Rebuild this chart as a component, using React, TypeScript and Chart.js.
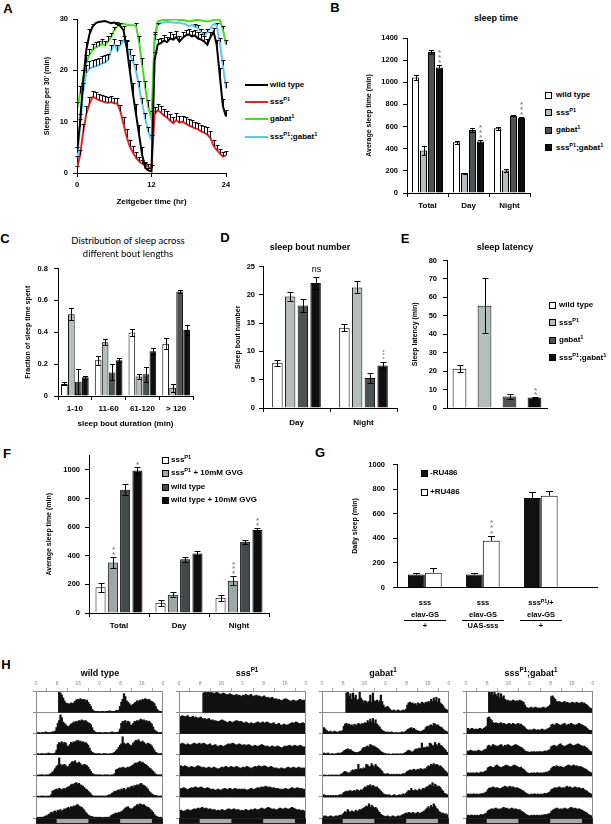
import React, { useEffect, useRef } from 'react';
import { Chart, registerables } from 'chart.js';

Chart.register(...registerables);

const FONT = "'Liberation Sans', Arial, Helvetica, sans-serif";
const _ = null;

// ===== genotypes & colours =====
const GENO = ['wild type', 'sss^{P1}', 'gabat^{1}', 'sss^{P1};gabat^{1}'];
const LINE_COLORS = ['#000000', '#ee2222', '#44dd22', '#5cc8ef'];
const BAR_COLORS = ['#ffffff', '#b4bfbc', '#4b5453', '#0e0e0e'];

// ===== Panel A : sleep per 30 min =====
const A_ZT = [0,0.5,1,1.5,2,2.5,3,3.5,4,4.5,5,5.5,6,6.5,7,7.5,8,8.5,9,9.5,10,10.5,11,11.5,12,12.5,13,13.5,14,14.5,15,15.5,16,16.5,17,17.5,18,18.5,19,19.5,20,20.5,21,21.5,22,22.5,23,23.5,24];
const A_WT = [4,10,18,24,27,28.5,29.2,29.4,29.5,29.6,29.4,29.2,29.3,29,28.6,27.8,24.5,20,15.5,11.5,7.5,3.5,1,0.5,0.3,22,25,25.3,25.8,25.5,26.2,26,26.5,25.6,26.3,26.8,27,26.6,26.8,26.2,26,25.6,25,26.5,27.5,25,19,13,11];
const A_SSS = [0.8,3.5,8,11.5,13.5,14.8,14.6,14.2,14,13.8,13.7,13.8,13.6,13.5,12,9.5,7,5.2,4,3,2.3,1.8,1.5,1.2,1,11.5,12.2,11.8,11.2,10.8,10.2,9.7,10.3,9.8,10,9.6,9.3,9,8.7,8.5,8.1,7.8,7.5,6.8,5.3,4.5,3.8,3.2,3.4];
const A_GABAT = [12.3,15.5,18.5,21.5,23,24,24.5,24.7,25.2,24.8,25.6,26.5,27.8,28.6,29,29.1,28.9,28.8,28.8,28.7,25.5,21,16.5,12.8,10.5,26.5,29.5,29.7,29.8,29.8,29.9,29.9,29.9,29.8,29.8,29.7,29.5,29.6,29.8,29.8,29.7,29.6,29.5,29.6,29.8,29.9,29.8,28,25];
const A_DOUBLE = [2.3,9,16,19.5,20.3,20.6,20.8,21,21.3,21.5,22,23.9,25.2,23.8,25,25.8,24.8,23,21.8,20,16.7,13.5,10.5,8,6.5,26,28.8,29.2,29.3,29.4,29.4,29.3,29.2,29.3,29.1,29,28.6,28.8,28.5,28.3,27.5,26.8,27.5,28.2,29,28.8,25.5,21,16.5];
const A_WT_ERR = [1,1.5,2,1.5,1,0.5,0.3,0.3,0.3,0.3,0.3,0.3,0.3,0.5,0.6,0.8,1.5,2,2,2,1.8,1.5,1,0.5,0.3,1.5,1.2,1,1.1,1,1.2,1,1.1,1,1.2,1,1.1,1,1,1.2,1,1.1,1.2,1,0.8,1,1.5,1.5,1.2];
const A_SSS_ERR = [0.5,1,1.5,1.5,1.3,1.2,1.1,1.2,1.1,1.2,1.1,1.2,1.1,1.2,1.3,1.4,1.5,1.3,1.2,1,0.8,0.7,0.6,0.5,0.5,1.4,1.3,1.2,1.3,1.2,1.3,1.2,1.4,1.3,1.2,1.3,1.2,1.3,1.2,1.3,1.2,1.3,1.4,1.3,1.2,1,0.9,0.8,0.8];
const A_GABAT_ERR = [1.5,1.5,1.5,1.5,1.2,1.2,1,1,1,1,1,0.8,0.6,0.5,0.4,0.4,0.4,0.4,0.4,0.5,1.2,1.5,1.5,1.5,1.5,1,0.3,0.3,0.2,0.2,0.2,0.2,0.2,0.2,0.2,0.2,0.3,0.3,0.2,0.2,0.2,0.3,0.3,0.3,0.2,0.2,0.2,0.6,1];
const A_DOUBLE_ERR = [1,1.5,1.5,1.5,1.5,1.5,1.5,1.5,1.5,1.5,1.2,1,1,1.2,1,0.8,1,1.2,1.2,1.2,1.2,1.2,1.2,1,1,1,0.5,0.4,0.4,0.3,0.3,0.3,0.3,0.3,0.3,0.4,0.4,0.4,0.5,0.5,0.6,0.6,0.5,0.4,0.4,0.5,0.8,1,1.2];

// ===== Panel B : sleep time =====
const B_CATS = ['Total', 'Day', 'Night'];
const B_WT = [1043, 459, 585];
const B_SSS = [384, 180, 204];
const B_GABAT = [1274, 570, 698];
const B_DOUBLE = [1133, 465, 677];
const B_WT_ERR = [20, 12, 15];
const B_SSS_ERR = [42, 5, 12];
const B_GABAT_ERR = [15, 15, 5];
const B_DOUBLE_ERR = [21, 12, 12];
const B_DOUBLE_SIG = ['***', '***', '***'];

// ===== Panel C : bout length distribution =====
const C_CATS = ['1-10', '11-60', '61-120', '> 120'];
const C_WT = [0.076, 0.224, 0.398, 0.328];
const C_SSS = [0.513, 0.338, 0.123, 0.051];
const C_GABAT = [0.09, 0.148, 0.137, 0.656];
const C_DOUBLE = [0.117, 0.224, 0.281, 0.414];
const C_WT_ERR = [0.01, 0.027, 0.02, 0.035];
const C_SSS_ERR = [0.039, 0.02, 0.014, 0.025];
const C_GABAT_ERR = [0.08, 0.05, 0.047, 0.01];
const C_DOUBLE_ERR = [0.01, 0.012, 0.02, 0.03];

// ===== Panel D : sleep bout number =====
const D_CATS = ['Day', 'Night'];
const D_WT = [8.0, 14.2];
const D_SSS = [19.7, 21.3];
const D_GABAT = [18.1, 5.3];
const D_DOUBLE = [22.1, 7.5];
const D_WT_ERR = [0.5, 0.6];
const D_SSS_ERR = [0.8, 1.05];
const D_GABAT_ERR = [1.2, 0.8];
const D_DOUBLE_ERR = [1.0, 0.6];
const D_DOUBLE_SIG = ['ns', '***'];

// ===== Panel E : sleep latency =====
const E_VALUES = [21.3, 55.5, 6.2, 5.7];
const E_ERR = [1.8, 15, 1.2, 0.4];
const E_SIG = ['', '', '', '**'];

// ===== Panel F : drug feeding =====
const F_CATS = ['Total', 'Day', 'Night'];
const F_LEGEND = ['sss^{P1}', 'sss^{P1} + 10mM GVG', 'wild type', 'wild type + 10mM GVG'];
const F_COLORS = ['#ffffff', '#9ca8a6', '#404a48', '#0e0e0e'];
const F_SSS = [180, 72, 106];
const F_SSS_GVG = [353, 127, 226];
const F_WT = [861, 376, 497];
const F_WT_GVG = [995, 416, 580];
const F_SSS_ERR = [30, 20, 20];
const F_SSS_GVG_ERR = [41, 18, 33];
const F_WT_ERR = [39, 18, 14];
const F_WT_GVG_ERR = [23, 18, 12];
const F_SSS_GVG_SIG = ['**', '', '***'];
const F_WT_GVG_SIG = ['*', '', '**'];
const F_TICKS = [0, 200, 400, 600, 800, 1000];

// ===== Panel G : RU486 induction =====
const G_X = [1, 2, 3];
const G_LINE1 = ['sss', 'sss', 'sss^{P1}/+'];
const G_LINE2 = ['elav-GS', 'elav-GS', 'elav-GS'];
const G_LINE3 = ['+', 'UAS-sss', '+'];
const G_LEGEND = ['-RU486', '+RU486'];
const G_MINUS = [105, 105, 728];
const G_PLUS = [120, 380, 746];
const G_MINUS_ERR = [16, 16, 45];
const G_PLUS_ERR = [42, 39, 39];
const G_PLUS_SIG = ['', '***', ''];

// ===== Panel H : double-plotted actograms (30-min bins, 7 days) =====
const ACTO_WT = [
  [_,_,_,_,_,_,_,_,_,_,_,_,_,_,_,_,_,29,27,24,20,16,13,12,12,11,13,12,13,15,17,18,17,19,18,17,18,16,17,14,11,8,4,2,1,1,1,1],
  [0,1,1,0,1,1,1,2,1,1,1,1,2,2,3,8,14,18,26,22,16,14,12,10,9,11,13,14,16,15,17,16,18,17,19,18,17,18,16,15,14,12,8,4,2,1,1,1],
  [1,1,0,1,1,1,0,1,1,2,1,1,1,1,2,6,14,17,16,18,15,17,16,12,11,14,17,16,18,17,19,20,18,19,17,18,16,17,15,13,9,5,3,2,1,1,1,1],
  [1,0,1,1,1,1,0,1,1,1,2,3,5,7,10,13,15,25,16,14,15,16,14,12,13,16,18,20,19,21,18,17,19,17,15,14,16,15,14,12,9,6,3,2,1,1,1,1],
  [1,1,0,1,1,1,1,0,1,1,1,3,8,9,10,11,10,12,11,10,11,12,11,13,14,15,17,18,17,19,20,18,19,17,16,15,13,11,10,8,6,4,2,1,1,1,1,1],
  [1,1,1,1,1,1,2,3,3,5,6,8,7,9,10,8,11,10,12,9,11,13,12,14,15,13,16,15,17,16,18,19,17,16,15,13,11,8,6,4,3,2,2,1,1,1,1,1],
  [1,1,0,1,1,1,1,1,3,4,5,6,7,6,8,7,9,10,12,14,15,16,14,13,12,14,16,17,19,18,20,19,18,19,17,16,15,14,12,10,8,5,3,2,1,1,1,1],
];
const ACTO_SSS = [
  [_,_,_,_,_,_,_,_,_,_,_,_,_,_,_,_,_,_,27,28,27,28,29,27,28,27,26,27,28,27,26,25,26,27,26,25,24,25,26,25,24,23,24,25,23,24,23,22],
  [24,23,25,24,23,24,25,23,22,23,24,22,23,22,21,22,23,21,20,21,19,20,21,19,18,19,17,18,17,16,17,18,19,18,17,16,15,16,17,16,15,16,17,18,17,16,17,16],
  [15,14,16,15,14,13,15,14,13,14,15,16,15,14,15,16,14,15,16,15,14,13,14,15,13,12,13,14,12,11,12,13,12,11,12,13,14,15,14,15,16,15,14,13,14,15,14,13],
  [13,14,12,13,14,13,12,11,12,13,12,11,12,13,14,13,12,11,12,11,10,11,12,11,10,11,12,11,10,9,10,11,12,11,12,13,12,11,12,13,12,11,12,13,12,11,10,11],
  [12,11,12,13,12,11,10,11,12,13,12,13,14,13,12,13,14,13,12,11,12,13,12,11,10,11,10,9,10,11,10,9,10,11,12,11,10,11,12,11,10,11,12,11,10,11,10,11],
  [10,11,10,9,10,11,12,11,10,11,12,13,12,13,14,13,14,15,14,13,14,13,12,13,12,11,12,11,10,11,10,11,12,11,10,11,12,13,12,11,12,13,12,11,12,11,10,11],
  [10,11,12,11,10,11,12,11,12,13,12,11,12,13,14,13,12,13,14,15,14,13,12,13,12,11,12,13,14,13,12,13,14,13,12,13,14,15,14,13,12,11,12,11,10,11,10,9],
];
const ACTO_GABAT = [
  [_,_,_,_,_,_,_,_,_,_,_,_,_,_,_,_,_,_,27,28,22,26,18,27,20,24,16,18,28,20,17,14,16,15,13,15,24,14,27,16,15,17,14,16,24,15,10,6],
  [7,8,6,4,2,2,3,1,2,3,2,1,2,3,2,4,10,13,14,12,13,11,12,10,13,11,12,14,13,12,14,13,15,14,18,15,20,16,21,14,19,13,11,9,6,4,3,2],
  [1,2,1,1,2,1,0,1,1,0,1,1,2,1,2,3,5,6,7,8,6,7,5,4,3,3,2,3,4,5,8,10,9,11,12,10,14,13,11,12,10,9,8,6,4,3,2,1],
  [1,0,1,0,0,1,0,1,0,1,0,1,0,1,2,3,5,6,5,4,3,5,7,8,7,9,8,16,9,10,9,11,10,16,15,12,13,17,14,12,16,13,12,10,8,6,3,2],
  [2,3,2,1,2,1,2,1,2,1,2,1,2,3,2,4,6,7,8,7,8,9,7,8,9,8,10,9,8,10,9,12,14,13,16,15,17,14,16,15,13,14,12,10,8,6,4,3],
  [3,2,3,2,1,2,3,2,1,2,3,2,3,4,3,5,7,9,8,12,9,8,10,9,8,11,9,10,12,11,13,14,15,17,16,20,15,18,16,14,15,13,10,8,5,4,3,2],
  [2,3,2,1,2,3,2,1,2,3,2,3,4,5,6,7,6,8,7,6,8,7,6,7,8,6,7,8,9,10,12,14,16,13,18,15,20,17,14,12,9,8,6,7,5,6,4,5],
];
const ACTO_DOUBLE = [
  [_,_,_,_,_,_,_,_,_,_,_,_,_,_,_,_,_,28,27,29,24,28,25,22,27,20,26,21,23,18,16,17,15,16,15,17,16,15,16,15,17,16,15,14,10,7,6,5],
  [6,7,5,6,7,6,5,6,5,6,7,6,5,7,8,10,22,23,20,18,15,14,15,14,13,14,15,13,14,13,12,13,14,13,12,14,13,12,13,14,12,13,11,10,8,6,5,4],
  [5,4,5,6,5,4,5,4,5,6,5,4,5,6,7,8,12,13,11,12,14,13,12,11,12,13,14,12,11,13,12,14,13,12,11,12,13,14,13,12,11,10,9,7,5,4,4,3],
  [3,4,3,4,3,4,3,4,4,3,4,5,4,5,6,7,11,12,13,12,11,12,14,15,13,12,11,12,13,14,15,14,13,12,13,14,15,14,13,12,11,12,10,9,7,5,4,3],
  [3,4,3,4,3,4,4,3,4,3,4,4,5,4,6,7,10,12,13,12,14,13,12,13,12,11,12,13,14,15,14,13,14,15,13,14,13,12,13,12,11,10,9,8,6,5,4,3],
  [3,4,3,4,4,3,4,3,4,3,4,5,4,5,6,7,10,11,12,13,12,13,14,13,12,13,12,14,15,13,14,13,12,13,14,13,12,13,12,11,12,10,9,8,6,5,4,3],
  [3,4,3,4,3,4,3,4,3,4,4,5,4,5,6,6,9,11,12,13,14,13,12,13,12,13,14,13,12,13,14,15,14,13,14,13,12,13,12,11,10,9,8,7,5,4,3,3],
];
const ACTO_SETS = [ACTO_WT, ACTO_SSS, ACTO_GABAT, ACTO_DOUBLE];
const ACTO_TITLES = GENO;
const ACTO_ROW_BASES = [150, 120, 90, 60, 30, 0];
const ACTO_ROW_LINES = [0, 30, 60, 90, 120, 150, 180];
const ACTO_TICKS = [0, 8, 16, 24, 32, 40, 48];
const LIGHT_START = [0, 8, 20, 32, 44];
const LIGHT_END = [8, 20, 32, 44, 48];
const LIGHT_STATE = ['dark', 'light', 'dark', 'light', 'dark'];
const LIGHT_BAR = [-7, 0];
const BIN_H = 0.5;
const ACTO_BINS = Array.from({ length: 96 }, (__, k) => k * BIN_H + BIN_H / 2);

// ===== shared chart helpers =====
const TICK_FONT = { size: 7.5, weight: 'bold', family: FONT };
const CAT_FONT = { size: 8, weight: 'bold', family: FONT };
const TITLE_FONT = { size: 7, weight: 'bold', family: FONT, lineHeight: 1.2 };
const plainNum = (v: any) => String(v);

const errPlugin = {
  id: 'errbars',
  afterDatasetsDraw(chart: any, _a: any, opts: any) {
    const ctx = chart.ctx;
    const capW = opts.capWidth ?? 5;
    const upOnly = !!opts.upOnly;
    const minErr = opts.minErr ?? 0;
    ctx.save();
    chart.data.datasets.forEach((ds: any, di: number) => {
      if (!ds.errorValues && !ds.stars) return;
      const meta = chart.getDatasetMeta(di);
      const ys = chart.scales[meta.yAxisID];
      meta.data.forEach((el: any, i: number) => {
        const raw = ds.data[i];
        const v = raw !== null && typeof raw === 'object' ? raw.y : raw;
        if (v == null) return;
        const x = Math.round(el.x) + 0.5;
        let topPx = ys.getPixelForValue(v);
        const e = ds.errorValues ? ds.errorValues[i] : 0;
        if (e && e >= minErr) {
          const up = Math.round(ys.getPixelForValue(v + e)) + 0.5;
          const lo = upOnly ? topPx : Math.round(ys.getPixelForValue(v - e)) + 0.5;
          ctx.strokeStyle = '#000';
          ctx.lineWidth = 1;
          ctx.beginPath();
          ctx.moveTo(x, lo);
          ctx.lineTo(x, up);
          ctx.moveTo(x - capW / 2, up);
          ctx.lineTo(x + capW / 2, up);
          if (!upOnly) {
            ctx.moveTo(x - capW / 2, lo);
            ctx.lineTo(x + capW / 2, lo);
          }
          ctx.stroke();
          topPx = up;
        }
        const s = ds.stars ? ds.stars[i] : '';
        if (s) {
          if (/^\*+$/.test(s)) {
            const size = opts.starSize || 8;
            const gap = opts.starGap || 5;
            const off = opts.starOffset || 5;
            ctx.fillStyle = '#8a8a8a';
            ctx.font = `bold ${size}px ${FONT}`;
            ctx.textAlign = 'center';
            ctx.textBaseline = 'alphabetic';
            for (let k = 0; k < s.length; k++) {
              const cy = topPx - off - k * gap;
              ctx.fillText('*', x, cy + size * 0.57);
            }
          } else {
            ctx.fillStyle = '#000';
            ctx.font = `9px ${FONT}`;
            ctx.textAlign = 'center';
            ctx.textBaseline = 'bottom';
            ctx.fillText(s, x, topPx - 3);
          }
        }
      });
    });
    ctx.restore();
  },
};

function baseOptions(padding: any, plug: any) {
  return {
    animation: false,
    responsive: false,
    maintainAspectRatio: false,
    events: [],
    layout: { padding },
    plugins: { legend: { display: false }, tooltip: { enabled: false }, title: { display: false }, ...plug },
  };
}

function yAxis(o: any) {
  const ax: any = {
    min: o.min,
    max: o.max,
    ticks: { stepSize: o.step, font: TICK_FONT, color: '#000', padding: o.tickPad, callback: plainNum },
    grid: { drawOnChartArea: false, tickLength: 4, color: '#000' },
    border: { color: '#000' },
    title: { display: true, text: o.title, color: '#000', font: TITLE_FONT, padding: { top: o.titlePad, bottom: 0 } },
    afterFit: (s: any) => { s.width = o.width; },
  };
  if (o.ticksList) ax.afterBuildTicks = (s: any) => { s.ticks = o.ticksList.map((v: number) => ({ value: v })); };
  return ax;
}

function catAxis(o: any) {
  const show = o.show !== false;
  const ax: any = {
    ticks: { display: show, font: CAT_FONT, color: '#000', padding: o.tickPad ?? 4, maxRotation: 0, autoSkip: false },
    grid: { drawOnChartArea: false, drawTicks: show, tickLength: 4, color: '#000' },
    border: { color: '#000' },
    afterFit: (s: any) => { s.height = o.height; },
  };
  if (o.title) ax.title = { display: true, text: o.title, color: '#000', font: { size: 8, weight: 'bold', family: FONT, lineHeight: 1.2 }, padding: { top: 0, bottom: o.titlePad } };
  return ax;
}

function barSet(label: string, data: any[], color: any, err: number[], stars?: string[]) {
  return { label, data, backgroundColor: color, borderColor: '#000', borderWidth: 1, errorValues: err, stars };
}

// ===== chart configs =====
function configA() {
  const series = [A_WT, A_SSS, A_GABAT, A_DOUBLE];
  const errs = [A_WT_ERR, A_SSS_ERR, A_GABAT_ERR, A_DOUBLE_ERR];
  return {
    type: 'line',
    data: {
      datasets: series.map((s, k) => ({
        label: GENO[k],
        data: A_ZT.map((x, i) => ({ x, y: s[i] })),
        borderColor: LINE_COLORS[k],
        borderWidth: 2,
        pointRadius: 0,
        tension: 0,
        fill: false,
        errorValues: errs[k],
      })),
    },
    options: {
      ...baseOptions({ left: 0, top: 14, right: 9, bottom: 0 }, { errbars: { capWidth: 4, upOnly: true, minErr: 0.5 } }),
      scales: {
        x: {
          type: 'linear', min: 0, max: 24,
          ticks: { stepSize: 12, font: TICK_FONT, color: '#000', padding: 3.9, callback: plainNum },
          grid: { drawOnChartArea: false, tickLength: 4, color: '#000' },
          border: { color: '#000' },
          title: { display: true, text: 'Zeitgeber time (hr)', color: '#000', font: { size: 8, weight: 'bold', family: FONT, lineHeight: 1.2 }, padding: { top: 0, bottom: 3.2 } },
          afterFit: (s: any) => { s.height = 37; },
        },
        y: yAxis({ min: 0, max: 30, step: 10, title: "Sleep time per 30' (min)", titlePad: 22.8, width: 57, tickPad: 5 }),
      },
    },
    plugins: [errPlugin],
  };
}

function configB() {
  return {
    type: 'bar',
    data: {
      labels: B_CATS,
      datasets: [
        barSet(GENO[0], B_WT, BAR_COLORS[0], B_WT_ERR),
        barSet(GENO[1], B_SSS, BAR_COLORS[1], B_SSS_ERR),
        barSet(GENO[2], B_GABAT, BAR_COLORS[2], B_GABAT_ERR),
        barSet(GENO[3], B_DOUBLE, BAR_COLORS[3], B_DOUBLE_ERR, B_DOUBLE_SIG),
      ],
    },
    options: {
      ...baseOptions({ left: 0, top: 13, right: 10, bottom: 0 }, { errbars: { capWidth: 5, starOffset: 5, starGap: 5 } }),
      datasets: { bar: { categoryPercentage: 0.78, barPercentage: 0.88 } },
      scales: {
        x: catAxis({ height: 22, tickPad: 3.6 }),
        y: yAxis({ min: 0, max: 1400, step: 200, title: 'Average sleep time (min)', titlePad: 24.8, width: 67, tickPad: 5 }),
      },
    },
    plugins: [errPlugin],
  };
}

function configC() {
  return {
    type: 'bar',
    data: {
      labels: C_CATS,
      datasets: [
        barSet(GENO[0], C_WT, BAR_COLORS[0], C_WT_ERR),
        barSet(GENO[1], C_SSS, BAR_COLORS[1], C_SSS_ERR),
        barSet(GENO[2], C_GABAT, BAR_COLORS[2], C_GABAT_ERR),
        barSet(GENO[3], C_DOUBLE, BAR_COLORS[3], C_DOUBLE_ERR),
      ],
    },
    options: {
      ...baseOptions({ left: 0, top: 8, right: 7, bottom: 0 }, { errbars: { capWidth: 5 } }),
      datasets: { bar: { categoryPercentage: 0.83, barPercentage: 0.95 } },
      scales: {
        x: catAxis({ height: 36, tickPad: 3.6, title: 'sleep bout duration (min)', titlePad: 3.2 }),
        y: yAxis({ min: 0, max: 0.8, step: 0.2, title: 'Fraction of sleep time spent', titlePad: 18.8, width: 53, tickPad: 6 }),
      },
    },
    plugins: [errPlugin],
  };
}

function configD() {
  return {
    type: 'bar',
    data: {
      labels: D_CATS,
      datasets: [
        barSet(GENO[0], D_WT, BAR_COLORS[0], D_WT_ERR),
        barSet(GENO[1], D_SSS, BAR_COLORS[1], D_SSS_ERR),
        barSet(GENO[2], D_GABAT, BAR_COLORS[2], D_GABAT_ERR),
        barSet(GENO[3], D_DOUBLE, BAR_COLORS[3], D_DOUBLE_ERR, D_DOUBLE_SIG),
      ],
    },
    options: {
      ...baseOptions({ left: 0, top: 8, right: 5, bottom: 0 }, { errbars: { capWidth: 6, starOffset: 5, starGap: 3.5, starSize: 6 } }),
      datasets: { bar: { categoryPercentage: 0.76, barPercentage: 0.82 } },
      scales: {
        x: catAxis({ height: 24, tickPad: 5.6 }),
        y: yAxis({ min: 0, max: 25, step: 5, title: 'Sleep bout number', titlePad: 11.8, width: 41, tickPad: 4 }),
      },
    },
    plugins: [errPlugin],
  };
}

function configE() {
  return {
    type: 'bar',
    data: {
      labels: GENO,
      datasets: [barSet('sleep latency', E_VALUES, BAR_COLORS, E_ERR, E_SIG)],
    },
    options: {
      ...baseOptions({ left: 0, top: 8, right: 3, bottom: 0 }, { errbars: { capWidth: 6, starOffset: 5, starGap: 4.5 } }),
      datasets: { bar: { categoryPercentage: 0.55, barPercentage: 1 } },
      scales: {
        x: catAxis({ height: 17, show: false }),
        y: yAxis({ min: 0, max: 80, step: 10, title: 'Sleep latency (min)', titlePad: 5.8, width: 42, tickPad: 6 }),
      },
    },
    plugins: [errPlugin],
  };
}

function configF() {
  return {
    type: 'bar',
    data: {
      labels: F_CATS,
      datasets: [
        barSet(F_LEGEND[0], F_SSS, F_COLORS[0], F_SSS_ERR),
        barSet(F_LEGEND[1], F_SSS_GVG, F_COLORS[1], F_SSS_GVG_ERR, F_SSS_GVG_SIG),
        barSet(F_LEGEND[2], F_WT, F_COLORS[2], F_WT_ERR),
        barSet(F_LEGEND[3], F_WT_GVG, F_COLORS[3], F_WT_GVG_ERR, F_WT_GVG_SIG),
      ],
    },
    options: {
      ...baseOptions({ left: 0, top: 8, right: 6, bottom: 0 }, { errbars: { capWidth: 6, starOffset: 5.5, starGap: 4.5 } }),
      datasets: { bar: { categoryPercentage: 0.82, barPercentage: 0.82 } },
      scales: {
        x: catAxis({ height: 27, tickPad: 3.6 }),
        y: yAxis({ min: 0, max: 1100, title: 'Average sleep time (min)', titlePad: 19.8, width: 64, tickPad: 5, ticksList: F_TICKS }),
      },
    },
    plugins: [errPlugin],
  };
}

function configG() {
  return {
    type: 'bar',
    data: {
      datasets: [
        barSet(G_LEGEND[0], G_X.map((x, i) => ({ x, y: G_MINUS[i] })), '#111111', G_MINUS_ERR),
        barSet(G_LEGEND[1], G_X.map((x, i) => ({ x, y: G_PLUS[i] })), '#ffffff', G_PLUS_ERR, G_PLUS_SIG),
      ],
    },
    options: {
      ...baseOptions({ left: 0, top: 11, right: 8, bottom: 0 }, { errbars: { capWidth: 7, upOnly: true, starOffset: 5.5, starGap: 5.5 } }),
      datasets: { bar: { categoryPercentage: 0.6, barPercentage: 1 } },
      scales: {
        x: {
          type: 'linear', min: 0.52, max: 3.97, offset: false,
          ticks: { display: false },
          grid: { drawOnChartArea: false, drawTicks: false },
          border: { color: '#000' },
          afterFit: (s: any) => { s.height = 10; },
        },
        y: yAxis({ min: 0, max: 1000, step: 200, title: 'Daily sleep (min)', titlePad: 10.8, width: 57, tickPad: 8 }),
      },
    },
    plugins: [errPlugin],
  };
}

function lightColor(h: number) {
  for (let i = 0; i < LIGHT_START.length; i++) {
    if (h >= LIGHT_START[i] && h < LIGHT_END[i]) return LIGHT_STATE[i] === 'dark' ? '#111111' : '#a8a8a8';
  }
  return '#111111';
}

const framePlugin = {
  id: 'actoFrame',
  afterDatasetsDraw(chart: any) {
    const { ctx, chartArea, scales } = chart;
    const l = Math.round(chartArea.left) + 0.5;
    const w = Math.round(chartArea.right - chartArea.left) - 1;
    const t = Math.round(scales.y.getPixelForValue(ACTO_ROW_LINES[ACTO_ROW_LINES.length - 1])) + 0.5;
    const b = Math.round(scales.y.getPixelForValue(0)) + 0.5;
    const lb = Math.round(scales.y.getPixelForValue(LIGHT_BAR[0])) + 0.5;
    ctx.save();
    ctx.strokeStyle = '#8c8c8c';
    ctx.lineWidth = 1;
    ctx.strokeRect(l, t, w, b - t);
    ctx.strokeStyle = '#222';
    ctx.strokeRect(l, b, w, lb - b);
    ctx.restore();
  },
};

function configActo(days: any[][]) {
  const rows = ACTO_ROW_BASES.map((b, r) => {
    const vals = days[r].concat(days[r + 1]);
    return {
      data: vals.map((v: any, k: number) => ({ x: ACTO_BINS[k], y: v == null ? null : [b, b + v] })),
      backgroundColor: '#111111',
      borderWidth: 0,
      grouped: false,
      barPercentage: 1,
      categoryPercentage: 1,
      inflateAmount: 0.45,
    };
  });
  const light = {
    data: ACTO_BINS.map((x) => ({ x, y: LIGHT_BAR })),
    backgroundColor: ACTO_BINS.map((x) => lightColor(x)),
    borderWidth: 0,
    grouped: false,
    barPercentage: 1,
    categoryPercentage: 1,
    inflateAmount: 0.5,
  };
  return {
    type: 'bar',
    data: { datasets: [...rows, light] },
    options: {
      ...baseOptions({ left: 5, top: 0, right: 8, bottom: 1 }, {}),
      scales: {
        x: {
          type: 'linear', position: 'top', min: 0, max: 48, offset: false,
          afterBuildTicks: (s: any) => { s.ticks = ACTO_TICKS.map((v) => ({ value: v })); },
          ticks: { font: { size: 5, family: FONT }, color: '#8a8a8a', padding: 1, callback: (v: any) => String(Number(v) % 24) },
          grid: { drawOnChartArea: false, tickLength: 3, color: '#aaaaaa' },
          border: { display: false },
          afterFit: (s: any) => { s.height = 15; },
        },
        y: {
          min: LIGHT_BAR[0], max: ACTO_ROW_LINES[ACTO_ROW_LINES.length - 1],
          afterBuildTicks: (s: any) => { s.ticks = ACTO_ROW_LINES.map((v) => ({ value: v })); },
          ticks: { display: false },
          grid: { color: '#8c8c8c', lineWidth: 1, tickLength: 3 },
          border: { display: false },
          afterFit: (s: any) => { s.width = 3; },
        },
      },
    },
    plugins: [framePlugin],
  };
}

// ===== React components =====
function ChartBox(props: { left: number; top: number; width: number; height: number; make: () => any }) {
  const ref = useRef<HTMLCanvasElement>(null);
  useEffect(() => {
    const chart = new Chart(ref.current as HTMLCanvasElement, props.make());
    return () => chart.destroy();
  }, []);
  return (
    <canvas
      ref={ref}
      width={props.width}
      height={props.height}
      style={{ position: 'absolute', left: props.left, top: props.top, width: props.width, height: props.height }}
    />
  );
}

function rich(s: string) {
  const parts: any[] = [];
  const re = /\^\{([^}]*)\}/g;
  let last = 0;
  let m: any;
  let k = 0;
  while ((m = re.exec(s))) {
    if (m.index > last) parts.push(<span key={k++}>{s.slice(last, m.index)}</span>);
    parts.push(<sup key={k++} style={{ fontSize: '0.7em', verticalAlign: '0.5em', lineHeight: 0 }}>{m[1]}</sup>);
    last = m.index + m[0].length;
  }
  if (last < s.length) parts.push(<span key={k++}>{s.slice(last)}</span>);
  return parts;
}

function Txt(p: { x: number; y: number; size?: number; bold?: boolean; align?: string; family?: string; children: any }) {
  const align = p.align || 'left';
  const tr = align === 'center' ? 'translate(-50%,-50%)' : align === 'right' ? 'translate(-100%,-50%)' : 'translate(0,-50%)';
  return (
    <div
      style={{
        position: 'absolute', left: p.x, top: p.y, transform: tr,
        fontSize: p.size || 8, fontWeight: p.bold === false ? 400 : 700,
        fontFamily: p.family || FONT, whiteSpace: 'nowrap', lineHeight: 1, color: '#000',
        textAlign: align === 'center' ? 'center' : 'left',
      }}
    >
      {p.children}
    </div>
  );
}

function Box(p: { x: number; y: number; color: string; size?: number }) {
  const s = p.size || 7;
  return (
    <div style={{ position: 'absolute', left: p.x, top: p.y - s / 2, width: s, height: s, background: p.color, border: '1px solid #000', boxSizing: 'border-box' }} />
  );
}

const A_LEG_Y = [85, 102, 119, 137];
const B_LEG_Y = [95, 112.5, 130, 147.5];
const E_LEG_Y = [305, 322.5, 340, 357.5];
const F_LEG_Y = [460, 473, 487, 500];
const G_LEG_Y = [473, 492];
const G_CENTERS = [425, 483, 541];
const ACTO_LEFTS = [36, 179, 322, 466];
const ACTO_TITLE_X = [100, 247, 383, 531];
const PANEL_LETTERS = [
  ['A', 8, 8], ['B', 335, 7], ['C', 5, 238], ['D', 225, 237],
  ['E', 405, 238], ['F', 7, 453], ['G', 320, 452], ['H', 6, 664],
];

export default function App() {
  return (
    <div style={{ position: 'absolute', left: 0, top: 0, width: 611, height: 824, background: '#fff', overflow: 'hidden', fontFamily: FONT }}>
      <ChartBox left={20} top={5} width={215} height={205} make={configA} />
      <ChartBox left={340} top={25} width={200} height={190} make={configB} />
      <ChartBox left={5} top={258} width={195} height={174} make={configC} />
      <ChartBox left={222} top={258} width={180} height={174} make={configD} />
      <ChartBox left={405} top={250} width={145} height={175} make={configE} />
      <ChartBox left={25} top={446} width={250} height={194} make={configF} />
      <ChartBox left={340} top={452} width={265} height={148} make={configG} />
      {ACTO_SETS.map((d, i) => (
        <ChartBox key={'acto' + i} left={ACTO_LEFTS[i] - 8} top={676} width={143} height={148} make={() => configActo(d)} />
      ))}

      {PANEL_LETTERS.map(([l, x, y]) => (
        <Txt key={'pl' + l} x={x as number} y={y as number} size={13} align="center">{l}</Txt>
      ))}

      {/* Panel A legend */}
      {GENO.map((g, i) => (
        <React.Fragment key={'la' + i}>
          <div style={{ position: 'absolute', left: 245, top: A_LEG_Y[i] - 1.25, width: 23, height: 2.5, background: LINE_COLORS[i] }} />
          <Txt x={270} y={A_LEG_Y[i]} size={8}>{rich(g)}</Txt>
        </React.Fragment>
      ))}

      {/* Panel B */}
      <Txt x={496} y={18} size={9} align="center">sleep time</Txt>
      {GENO.map((g, i) => (
        <React.Fragment key={'lb' + i}>
          <Box x={545} y={B_LEG_Y[i]} color={BAR_COLORS[i]} />
          <Txt x={556} y={B_LEG_Y[i]} size={8}>{rich(g)}</Txt>
        </React.Fragment>
      ))}

      {/* Panel C title */}
      <Txt x={128} y={241} size={9.5} bold={false} align="center" family="Lato, 'Liberation Sans', sans-serif">Distribution of sleep across</Txt>
      <Txt x={128} y={253.5} size={9.5} bold={false} align="center" family="Lato, 'Liberation Sans', sans-serif">different bout lengths</Txt>

      {/* Panel D / E titles */}
      <Txt x={310} y={247} size={9} align="center">sleep bout number</Txt>
      <Txt x={505} y={247} size={9} align="center">sleep latency</Txt>
      {GENO.map((g, i) => (
        <React.Fragment key={'le' + i}>
          <Box x={549} y={E_LEG_Y[i]} color={BAR_COLORS[i]} />
          <Txt x={559} y={E_LEG_Y[i]} size={8}>{rich(g)}</Txt>
        </React.Fragment>
      ))}

      {/* Panel F legend */}
      {F_LEGEND.map((g, i) => (
        <React.Fragment key={'lf' + i}>
          <Box x={162} y={F_LEG_Y[i]} color={F_COLORS[i]} />
          <Txt x={171} y={F_LEG_Y[i]} size={8}>{rich(g)}</Txt>
        </React.Fragment>
      ))}

      {/* Panel G legend and genotype labels */}
      {G_LEGEND.map((g, i) => (
        <React.Fragment key={'lg' + i}>
          <Box x={421} y={G_LEG_Y[i]} color={i === 0 ? '#111111' : '#ffffff'} />
          <Txt x={430} y={G_LEG_Y[i]} size={8}>{g}</Txt>
        </React.Fragment>
      ))}
      {G_CENTERS.map((cx, i) => (
        <React.Fragment key={'gl' + i}>
          <Txt x={cx} y={603} size={7.5} align="center">{rich(G_LINE1[i])}</Txt>
          <Txt x={cx} y={614.5} size={7.5} align="center">{G_LINE2[i]}</Txt>
          <div style={{ position: 'absolute', left: cx - 21, top: 620, width: 42, height: 1, background: '#000' }} />
          <Txt x={cx} y={626} size={7.5} align="center">{G_LINE3[i]}</Txt>
        </React.Fragment>
      ))}

      {/* Panel H titles */}
      {ACTO_TITLES.map((t, i) => (
        <Txt key={'ht' + i} x={ACTO_TITLE_X[i]} y={673} size={9} align="center">{rich(t)}</Txt>
      ))}
    </div>
  );
}
